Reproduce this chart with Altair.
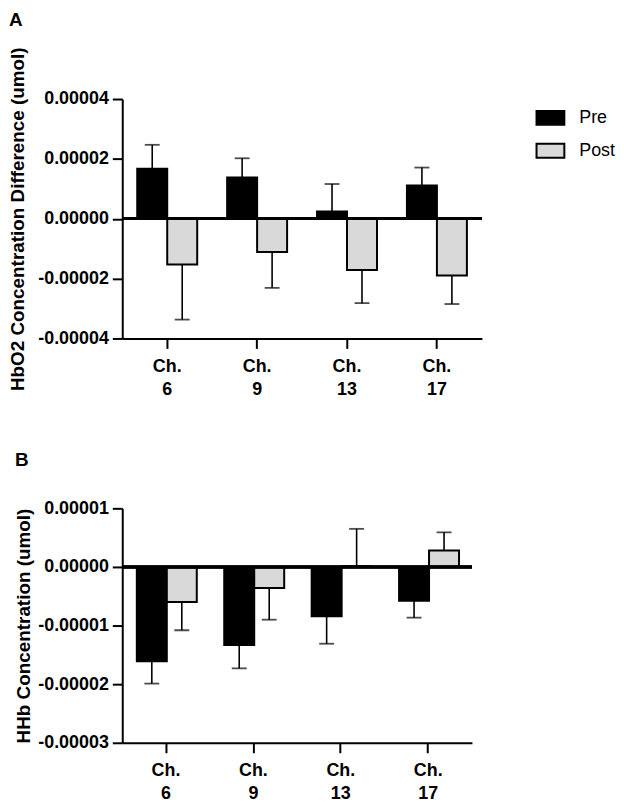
import altair as alt
import pandas as pd
import numpy as np

channels = ["Ch. 6", "Ch. 9", "Ch. 13", "Ch. 17"]
phases = ["Pre", "Post"]

# Panel A: HbO2 (umol)
a_pre = [1.67e-5, 1.38e-5, 0.24e-5, 1.11e-5]
a_pre_err = [0.80e-5, 0.64e-5, 0.92e-5, 0.60e-5]
a_post = [-1.53e-5, -1.11e-5, -1.71e-5, -1.90e-5]
a_post_err = [1.84e-5, 1.20e-5, 1.11e-5, 0.95e-5]

# Panel B: HHb (umol)
b_pre = [-1.61e-5, -1.33e-5, -0.84e-5, -0.575e-5]
b_pre_err = [0.38e-5, 0.40e-5, 0.47e-5, 0.29e-5]
b_post = [-0.60e-5, -0.36e-5, 0.01e-5, 0.28e-5]
b_post_err = [0.48e-5, 0.54e-5, 0.64e-5, 0.31e-5]

a_ticks = [-0.00004, -0.00002, 0.0, 0.00002, 0.00004]
b_ticks = [-0.00003, -0.00002, -0.00001, 0.0, 0.00001]

FONT = "Liberation Sans"


def make_df(pre, pre_err, post, post_err):
    rows = []
    for i, ch in enumerate(channels):
        for ph, m, e in (("Pre", pre[i], pre_err[i]), ("Post", post[i], post_err[i])):
            s = 1.0 if m >= 0 else -1.0
            rows.append({"ch": ch, "phase": ph, "mean": m, "end": m + s * e})
    return pd.DataFrame(rows)


def panel(df, ticks, ytitle, title, width, height, title_pad, title_off, show_legend):
    xs = alt.X("ch:N", sort=channels, title=None,
               scale=alt.Scale(paddingInner=0.333, paddingOuter=0.1667),
               axis=alt.Axis(labelAngle=0, labelExpr="split(datum.label, ' ')",
                             labelLineHeight=23, labelPadding=9))
    xo = alt.XOffset("phase:N", sort=phases,
                     scale=alt.Scale(domain=phases, paddingInner=0, paddingOuter=0))
    yscale = alt.Scale(domain=[ticks[0], ticks[-1]], nice=False, zero=False)
    if show_legend:
        leg = alt.Legend(title=None, orient="none", legendX=416, legendY=4,
                         symbolType="M-1,-0.5L1,-0.5L1,0.5L-1,0.5Z", symbolSize=784,
                         symbolStrokeColor="black", symbolStrokeWidth=2,
                         labelFont=FONT, labelFontSize=18, labelFontWeight="normal",
                         labelColor="black", labelOffset=14, rowPadding=7, padding=0)
    else:
        leg = None
    fill = alt.Fill("phase:N", sort=phases,
                    scale=alt.Scale(domain=phases, range=["#000000", "#d9d9d9"]),
                    legend=leg)
    base = alt.Chart(df)
    bars = base.mark_bar(stroke="black", strokeWidth=2).encode(
        x=xs, xOffset=xo,
        y=alt.Y("mean:Q", scale=yscale, title=ytitle,
                axis=alt.Axis(values=ticks, format=".5f", titlePadding=title_pad,
                              labelExpr="replace(datum.label, '\u2212', '-')")),
        fill=fill,
    )
    whisk = base.mark_rule(color="black", strokeWidth=1.6).encode(
        x=xs, xOffset=xo, y="mean:Q", y2="end:Q")
    caps = base.mark_tick(color="black", thickness=1.8, size=15, orient="horizontal").encode(
        x=xs, xOffset=xo, y="end:Q")
    zero = base.mark_rule(color="black", strokeWidth=2.5).encode(y=alt.datum(0))
    return alt.layer(bars, whisk, caps, zero).properties(
        width=width, height=height,
        title=alt.Title(title, anchor="start", frame="bounds", fontSize=19,
                        fontWeight="bold", font=FONT, color="black", offset=title_off),
    )


dfa = make_df(a_pre, a_pre_err, a_post, a_post_err)
dfb = make_df(b_pre, b_pre_err, b_post, b_post_err)

pa = panel(dfa, a_ticks, "HbO2 Concentration Difference (umol)", "A", 362, 241, 10, 17, True)
pb = panel(dfb, b_ticks, "HHb Concentration (umol)", "B", 352, 236, 4, 30, False)

chart = alt.vconcat(pa, pb, spacing=53).resolve_scale(fill="independent").resolve_legend(
    fill="independent"
).properties(padding=0).configure_view(stroke=None).configure_axis(
    grid=False, domainColor="black", domainWidth=2, tickColor="black", tickWidth=2,
    tickSize=10, labelFont=FONT, labelFontSize=18, labelFontWeight="bold",
    labelColor="black", labelPadding=4, titleFont=FONT, titleFontSize=19,
    titleFontWeight="bold", titleColor="black",
)

chart.save("out.html", embed_options={"renderer": "svg", "actions": False})
